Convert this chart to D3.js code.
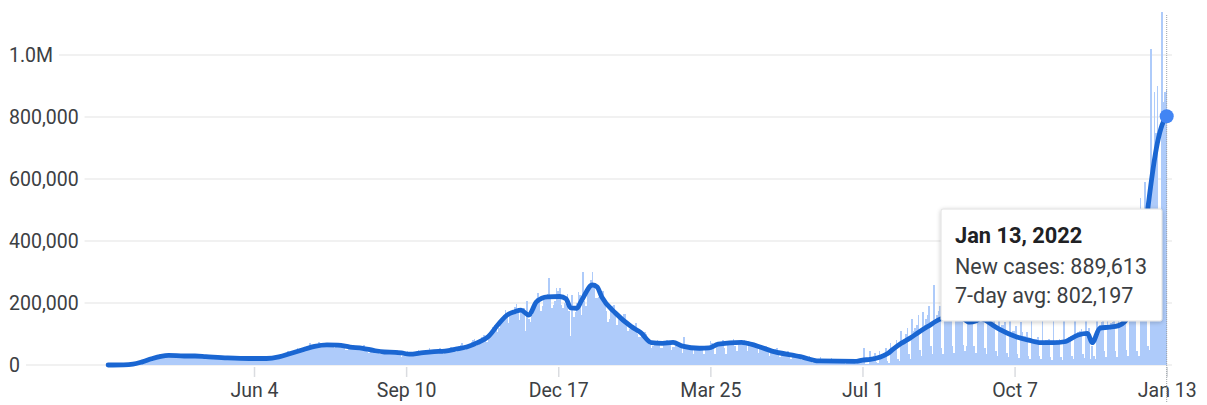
<!DOCTYPE html>
<html><head><meta charset="utf-8">
<script src="https://cdn.jsdelivr.net/npm/d3@7"></script>
<style>
body{margin:0;background:#fff;}
svg{display:block;font-family:Roboto, Arial, sans-serif;}
</style></head><body>
<svg id="c" width="1207" height="405"></svg>
<script>
// ---------- DATA ----------
const startDate = "2020-03-02";
const endDate = "2022-01-13";
// daily new cases (thousands), one row per week Mon..Sun starting Mar 2, 2020
const dailyCasesK = [
[0.02,0.03,0.03,0.05,0.07,0.1,0.1],
[0.2,0.3,0.4,0.5,0.7,0.8,0.9],
[1.2,1.8,2.5,3.9,5.5,7,8],
[10,10,12,17,18,20,19],
[21,25,27,29,32,34,26],
[29,32,31,33,35,31,27],
[25,27,30,32,31,30,27],
[26,28,29,32,34,33,26],
[23,25,27,30,36,29,26],
[22,23,25,28,29,25,20],
[19,22,21,27,26,24,20],
[21,21,21,26,24,23,20],
[18,19,20,22,24,25,21],
[21,20,20,21,24,23,18],
[17,19,21,23,25,25,20],
[20,23,26,27,30,32,26],
[29,32,36,39,45,42,38],
[40,45,50,55,52,45,44],
[47,58,60,61,70,62,58],
[60,63,67,74,71,64,60],
[61,64,69,71,72,65,56],
[58,60,68,71,68,60,48],
[48,53,55,58,63,58,48],
[49,52,55,56,63,55,42],
[38,44,46,47,50,47,40],
[35,38,42,45,48,44,36],
[38,40,39,45,50,43,32],
[27,29,33,35,45,42,34],
[35,38,38,44,47,43,35],
[37,40,40,45,56,46,36],
[36,40,42,46,55,50,35],
[40,44,51,54,57,53,45],
[42,51,60,64,70,55,48],
[58,62,63,75,80,84,60],
[67,73,80,90,97,86,75],
[86,93,102,122,130,126,105],
[120,140,143,160,178,160,136],
[160,160,175,188,196,175,145],
[170,175,185,110,205,150,140],
[160,180,200,215,232,215,175],
[190,215,225,228,280,225,185],
[195,205,248,238,250,192,185],
[200,198,230,175,95,225,155],
[170,200,235,225,160,300,205],
[190,235,255,275,301,260,215],
[215,220,230,235,240,200,175],
[140,150,185,190,195,170,130],
[150,150,155,165,165,140,110],
[115,115,120,125,135,100,90],
[90,95,95,105,100,85,65],
[55,60,70,75,80,70,55],
[55,73,75,80,78,65,50],
[58,58,67,70,68,60,40],
[90,55,58,60,62,52,35],
[50,52,58,60,62,53,35],
[48,55,62,78,70,62,35],
[60,62,70,75,80,55,35],
[65,65,73,78,85,60,45],
[70,73,75,78,82,65,45],
[60,62,65,68,70,55,40],
[52,55,57,58,60,45,30],
[42,45,48,52,55,35,25],
[35,36,38,40,45,25,18],
[27,28,30,32,36,22,15],
[22,25,28,26,30,12,8],
[5,12,20,20,25,10,7],
[15,14,15,17,22,8,5],
[12,12,13,15,18,7,4],
[12,12,13,15,18,7,4],
[20,14,15,18,55,3,2],
[3,45,25,28,40,10,6],
[45,30,35,40,55,12,8],
[70,45,50,60,80,20,12],
[110,80,85,100,120,35,20],
[150,110,120,130,160,50,30],
[172,130,150,160,190,60,35],
[258,150,160,175,190,55,35],
[230,160,165,180,195,60,40],
[260,170,180,190,200,65,45],
[60,250,190,185,200,60,40],
[300,160,170,175,180,55,35],
[240,130,150,150,160,45,30],
[220,120,130,130,140,40,25],
[200,100,110,110,125,35,22],
[140,105,95,95,105,30,20],
[160,80,85,85,90,28,18],
[150,75,80,80,85,25,15],
[160,75,80,80,85,25,17],
[175,80,85,90,95,28,18],
[200,100,105,110,115,35,22],
[230,105,120,20,60,30,20],
[250,120,130,140,150,45,25],
[250,125,135,140,150,45,25],
[260,135,150,160,180,50,30],
[420,180,250,270,250,45,30],
[540,440,490,590,450,60,50],
[1020,600,880,750,900,450,380],
[1140,850,880,889.613]
];
// 7-day average (thousands) at read-off dates
const avgDates = ["2020-03-02","2020-03-12","2020-03-18","2020-03-24","2020-03-30","2020-04-05","2020-04-10","2020-04-20","2020-04-27","2020-05-04","2020-05-18","2020-06-01","2020-06-12","2020-06-20","2020-06-28","2020-07-06","2020-07-13","2020-07-21","2020-07-28","2020-08-05","2020-08-13","2020-08-20","2020-08-27","2020-09-03","2020-09-07","2020-09-12","2020-09-21","2020-09-28","2020-10-05","2020-10-12","2020-10-19","2020-10-26","2020-11-02","2020-11-08","2020-11-14","2020-11-19","2020-11-23","2020-11-28","2020-12-03","2020-12-10","2020-12-18","2020-12-22","2020-12-25","2020-12-29","2021-01-01","2021-01-08","2021-01-11","2021-01-14","2021-01-23","2021-02-02","2021-02-08","2021-02-15","2021-02-22","2021-03-01","2021-03-07","2021-03-18","2021-03-24","2021-03-30","2021-04-14","2021-04-18","2021-05-05","2021-05-22","2021-06-03","2021-06-27","2021-07-01","2021-07-06","2021-07-12","2021-07-17","2021-07-21","2021-07-26","2021-08-01","2021-08-06","2021-08-12","2021-08-20","2021-08-26","2021-09-01","2021-09-08","2021-09-12","2021-09-15","2021-09-18","2021-09-23","2021-09-28","2021-10-08","2021-10-16","2021-10-24","2021-11-01","2021-11-08","2021-11-17","2021-11-23","2021-11-26","2021-12-01","2021-12-07","2021-12-13","2021-12-17","2021-12-21","2021-12-26","2021-12-29","2022-01-01","2022-01-07","2022-01-10","2022-01-13"];
const avgValuesK = [0,0.5,2.5,10,20,28,31,29,29,27,23,21,21,26,38,50,60,65,64,58,54,47,42,41,39,35,40,43,45,51,58,72,92,129,161,172,177,161,204,220,221,214,184,183,208,258,252,220,167,124,105,72,70,73,61,54,55,67,73,70,43,27,13,12,16,18,25,36,52,70,88,105,124,148,155,158,138,142,150,145,128,113,91,80,72,72,75,97,102,72,119,122,127,140,170,250,380,511,716,774,802.197];
const xTickDates = ["2020-06-04","2020-09-10","2020-12-17","2021-03-25","2021-07-01","2021-10-07","2022-01-13"];
const xTickLabels = ["Jun 4","Sep 10","Dec 17","Mar 25","Jul 1","Oct 7","Jan 13"];
const yTickValues = [0,200000,400000,600000,800000,1000000];
const yTickLabels = ["0","200,000","400,000","600,000","800,000","1.0M"];
const tooltipTitle = "Jan 13, 2022";
const tooltipLines = ["New cases: 889,613","7-day avg: 802,197"];

// ---------- CHART ----------
const parse = d3.utcParse("%Y-%m-%d");
const svg = d3.select("#c");
const x = d3.scaleUtc().domain([parse(startDate), parse(endDate)]).range([108.1, 1166.7]);
const y = d3.scaleLinear().domain([0, 1e6]).range([365, 55]);

const t0 = parse(startDate);
const daily = dailyCasesK.flat().map((v,i)=>({date:d3.utcDay.offset(t0,i), v:v*1000}));
const avg = avgDates.map((d,i)=>({date:parse(d), v:avgValuesK[i]*1000}));
const step = x(d3.utcDay.offset(t0,1)) - x(t0);

const defs = svg.append("defs");
const f = defs.append("filter").attr("id","sh").attr("x","-10%").attr("y","-10%").attr("width","130%").attr("height","140%");
f.append("feDropShadow").attr("dx",0).attr("dy",1).attr("stdDeviation",2).attr("flood-color","#000").attr("flood-opacity",0.22);

// y grid + labels
const gy = svg.append("g");
yTickValues.forEach((v,i)=>{
  const t = gy.append("text").attr("x",9).attr("y",y(v)).attr("dy","0.36em")
    .attr("font-size",19.5).attr("fill","#3c4043").text(yTickLabels[i]);
  const w = t.node().getComputedTextLength();
  gy.insert("line","text").attr("x1",9+w+6).attr("x2",1172).attr("y1",y(v)).attr("y2",y(v))
    .attr("stroke","#ececec").attr("stroke-width",1.6);
});

// x axis
const xa = d3.axisBottom(x).tickValues(xTickDates.map(parse)).tickFormat((d,i)=>xTickLabels[i]).tickSize(10).tickPadding(5.7);
const gx = svg.append("g").attr("transform","translate(0,367)").call(xa);
gx.select(".domain").remove();
gx.selectAll(".tick line").attr("stroke","#dadce0").attr("stroke-width",1.5);
gx.selectAll(".tick text").attr("font-size",19.5).attr("fill","#3c4043").attr("font-family","Roboto, Arial, sans-serif");

// bars (pixel-snapped so adjacent days join without seams)
svg.append("g").attr("shape-rendering","crispEdges").selectAll("rect").data(daily).join("rect")
  .attr("x",d=>Math.round(x(d.date)-step/2))
  .attr("width",d=>Math.max(1, Math.round(x(d.date)+step/2)-Math.round(x(d.date)-step/2)))
  .attr("y",d=>y(d.v)).attr("height",d=>y(0)-y(d.v))
  .attr("fill","#aecbfa");

// dotted guide
const last = daily[daily.length-1];
svg.append("line").attr("x1",x(last.date)).attr("x2",x(last.date)).attr("y1",15).attr("y2",402)
  .attr("stroke","#9aa0a6").attr("stroke-width",1).attr("stroke-dasharray","1,1");

// avg line
const line = d3.line().x(d=>x(d.date)).y(d=>y(d.v)).curve(d3.curveMonotoneX);
svg.append("path").datum(avg).attr("d",line).attr("fill","none")
  .attr("stroke","#1a66d2").attr("stroke-width",4.8).attr("stroke-linejoin","round").attr("stroke-linecap","round");

const lastAvg = avg[avg.length-1];
svg.append("circle").attr("cx",x(lastAvg.date)).attr("cy",y(lastAvg.v)).attr("r",7).attr("fill","#4285f4");

// tooltip
const tt = svg.append("g");
tt.append("rect").attr("x",941).attr("y",209).attr("width",221).attr("height",112).attr("rx",2)
  .attr("fill","#fff").attr("stroke","#e0e0e0").attr("stroke-width",1).attr("filter","url(#sh)");
tt.append("text").attr("x",955).attr("y",243).attr("font-size",21.8).attr("font-weight","bold").attr("fill","#202124").text(tooltipTitle);
tooltipLines.forEach((s,i)=>{
  tt.append("text").attr("x",955).attr("y",274+29*i).attr("font-size",21.5).attr("fill","#3c4043").text(s);
});
</script>
</body></html>
